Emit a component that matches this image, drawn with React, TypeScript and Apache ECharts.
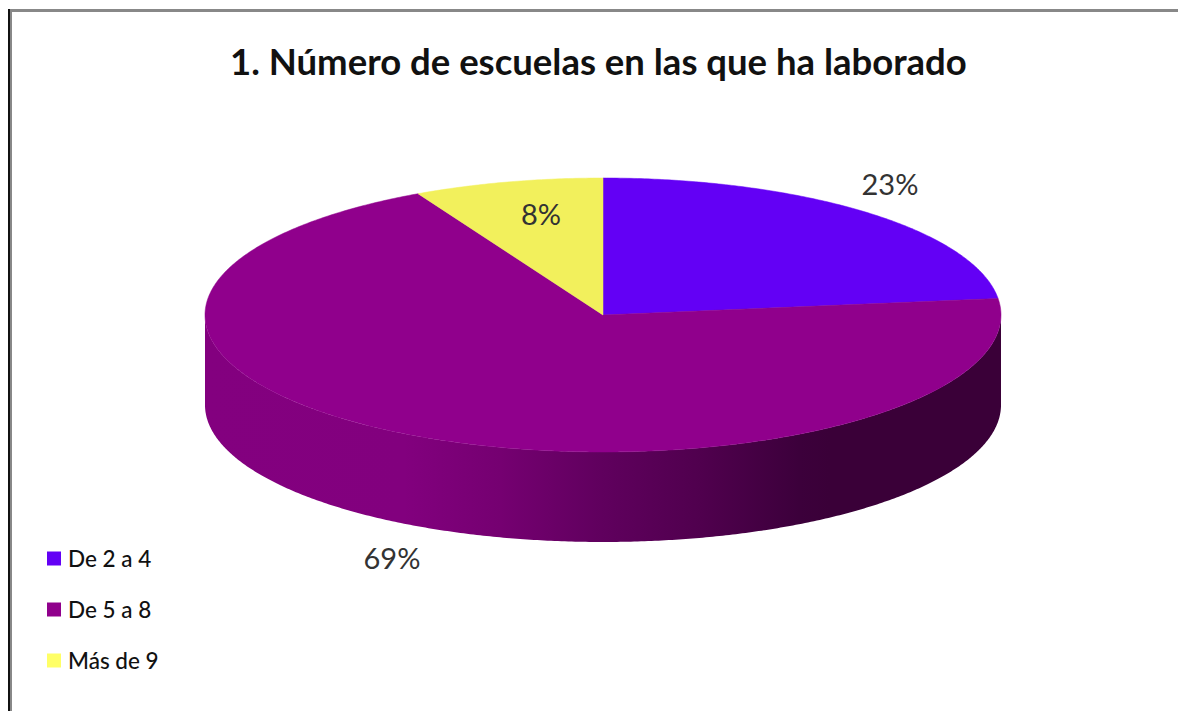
import React, { useEffect, useRef } from "react";
import * as echarts from "echarts";

const TITLE = "1. Número de escuelas en las que ha laborado";
const CATEGORIES = ["De 2 a 4", "De 5 a 8", "Más de 9"];
const VALUES = [6, 18, 2];
const TOP_COLORS = ["#6300f5", "#90008c", "#f2f05c"];
const LEGEND_COLORS = ["#6300f5", "#90008c", "#ffff66"];

const CX = 603;
const CY = 315;
const RX = 398;
const RY = 137;
const DEPTH = 90;
const FONT = "Lato, Carlito, sans-serif";
// label centre in pixels, per slice
const LABEL_SPOTS = [
  [890, 183],
  [392, 557],
  [541, 213],
];

const TOTAL = VALUES.reduce((a, b) => a + b, 0);
const pt = (deg: number, dy = 0) => {
  const t = (deg * Math.PI) / 180;
  return [CX + RX * Math.sin(t), CY - RY * Math.cos(t) + dy];
};
const arc = (from: number, to: number, dy = 0) => {
  const pts: number[][] = [];
  const n = Math.max(2, Math.ceil(Math.abs(to - from) * 2));
  for (let i = 0; i <= n; i++) pts.push(pt(from + ((to - from) * i) / n, dy));
  return pts;
};
const shade = (hex: string, k: number) => {
  const c = [1, 3, 5].map((i) => Math.round(parseInt(hex.slice(i, i + 2), 16) * k));
  return `rgb(${c[0]},${c[1]},${c[2]})`;
};

const makeRender = (idx: number) => (_p: any, api: any) => {
  const before = VALUES.slice(0, idx).reduce((a, b) => a + b, 0);
  const value = api.value(0);
  const start = (before / TOTAL) * 360;
  const end = ((before + value) / TOTAL) * 360;
  const color = TOP_COLORS[idx];
  const children: any[] = [];
  const fStart = Math.max(start, 90);
  const fEnd = Math.min(end, 270);
  if (fEnd > fStart) {
    children.push({
      type: "polygon",
      z2: 1,
      shape: { points: [...arc(fStart, fEnd), ...arc(fEnd, fStart, DEPTH)] },
      style: {
        fill: new echarts.graphic.LinearGradient(
          CX + RX, 0, CX - RX, 0,
          [
            { offset: 0, color: shade(color, 0.4) },
            { offset: 0.215, color: shade(color, 0.4) },
            { offset: 0.253, color: shade(color, 0.42) },
            { offset: 0.378, color: shade(color, 0.555) },
            { offset: 0.503, color: shade(color, 0.67) },
            { offset: 0.629, color: shade(color, 0.81) },
            { offset: 0.75, color: shade(color, 0.9) },
            { offset: 1, color: shade(color, 0.91) },
          ],
          true
        ),
      },
    });
  }
  children.push({
    type: "polygon",
    z2: 2,
    shape: { points: [[CX, CY], ...arc(start, end)] },
    style: { fill: color, stroke: color, lineWidth: 0.5 },
  });
  children.push({
    type: "text",
    z2: 5,
    style: {
      x: LABEL_SPOTS[idx][0],
      y: LABEL_SPOTS[idx][1],
      text: `${Math.round((value / TOTAL) * 100)}%`,
      fill: "#333333",
      font: `400 29px ${FONT}`,
      align: "center",
      verticalAlign: "middle",
    },
  });
  return { type: "group", children };
};

export default function App() {
  const ref = useRef<HTMLDivElement>(null);
  useEffect(() => {
    const chart = echarts.init(ref.current!, null, { renderer: "svg" });
    chart.setOption({
      animation: false,
      backgroundColor: "#ffffff",
      title: {
        text: TITLE,
        left: 225,
        top: 37,
        textStyle: { fontFamily: FONT, fontSize: 36.5, fontWeight: 700, color: "#111111" },
      },
      legend: {
        orient: "vertical",
        left: 42,
        top: 542,
        itemWidth: 14,
        itemHeight: 14,
        itemGap: 28,
        icon: "rect",
        selectedMode: false,
        data: CATEGORIES,
        textStyle: { fontFamily: FONT, fontSize: 22.5, fontWeight: 500, color: "#111111", padding: [0, 0, 0, 2] },
      },
      graphic: [
        { type: "rect", silent: true, shape: { x: 8, y: 9, width: 1170, height: 3 }, style: { fill: "#888888" } },
        { type: "rect", silent: true, shape: { x: 10, y: 10, width: 2, height: 701 }, style: { fill: "#888888" } },
        { type: "rect", silent: true, shape: { x: 8, y: 9, width: 2, height: 702 }, style: { fill: "#111111" } },
      ],
      series: CATEGORIES.map((name, i) => ({
        type: "custom",
        name,
        coordinateSystem: "none",
        itemStyle: { color: LEGEND_COLORS[i] },
        data: [[VALUES[i]]],
        encode: { value: 0 },
        renderItem: makeRender(i),
      })),
    });
    return () => chart.dispose();
  }, []);
  return <div ref={ref} style={{ position: "fixed", left: 0, top: 0, width: 1178, height: 711 }} />;
}
